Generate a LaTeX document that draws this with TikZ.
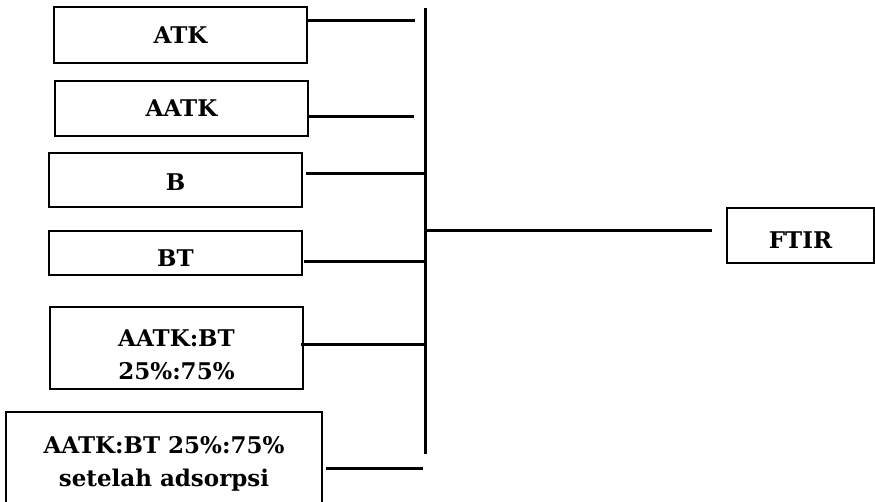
\documentclass[tikz,border=0pt]{standalone}
\usepackage{fontspec}
\setmainfont{DejaVu Serif}
\begin{document}
\begin{tikzpicture}[x=1pt,y=-1pt,
  box/.style={draw=black,line width=2pt,rectangle,inner sep=0pt,align=center,
    font=\fontsize{23}{33}\selectfont\bfseries},
  wire/.style={line width=3pt,line cap=butt},
  lbl/.style={inner sep=0pt,font=\fontsize{23}{33}\selectfont\bfseries}]
\useasboundingbox (0,0) rectangle (875,502);
\clip (0,0) rectangle (875,502);
% boxes
\node[box,minimum width=253pt,minimum height=56pt] (atk) at (180.5,35) {ATK};
\node[box,minimum width=253pt,minimum height=55pt] (aatk) at (181.5,108.5) {AATK};
\node[box,minimum width=253pt,minimum height=54pt] (b) at (175.5,180) {\rule{0pt}{21pt}B};
\node[box,minimum width=253pt,minimum height=44pt] (bt) at (175.5,253) {};
\begin{scope}
  \clip (50,232) rectangle (301,266);
  \node[lbl,anchor=base] (btlbl) at (175.5,267) {BT};
\end{scope}
\node[box,minimum width=253pt,minimum height=82pt] (mix) at (176.5,348) {\rule{0pt}{31pt}AATK:BT\\25\%:75\%};
\node[box,minimum width=316pt,minimum height=100pt] (ads) at (164,462) {\rule{0pt}{21pt}AATK:BT 25\%:75\%\\setelah adsorpsi};
\node[box,minimum width=147pt,minimum height=55pt] (ftir) at (800.5,235.5) {\rule{0pt}{27pt}FTIR};
% bus
\coordinate (bustop) at (425,8);
\coordinate (busbot) at (425,454);
\draw[wire] (bustop) -- (busbot);
% connectors
\coordinate (e1) at (415,21);
\coordinate (e2) at (414,117);
\coordinate (e3) at (425,174);
\coordinate (e4) at (425,262);
\coordinate (e5) at (425,345);
\coordinate (e6) at (423,468);
\coordinate (j) at (425,231);
\draw[wire] (atk.east |- e1) -- (e1);
\draw[wire] ([xshift=-2pt]aatk.east |- e2) -- (e2);
\draw[wire] ([xshift=3pt]b.east |- e3) -- (e3);
\draw[wire] ([xshift=1pt]bt.east |- e4) -- (e4);
\draw[wire] ([xshift=-3pt]mix.east |- e5) -- (e5);
\draw[wire] ([xshift=3pt]ads.east |- e6) -- (e6);
\draw[wire] (j) -- ([xshift=-14pt]ftir.west |- j);
\end{tikzpicture}
\end{document}
